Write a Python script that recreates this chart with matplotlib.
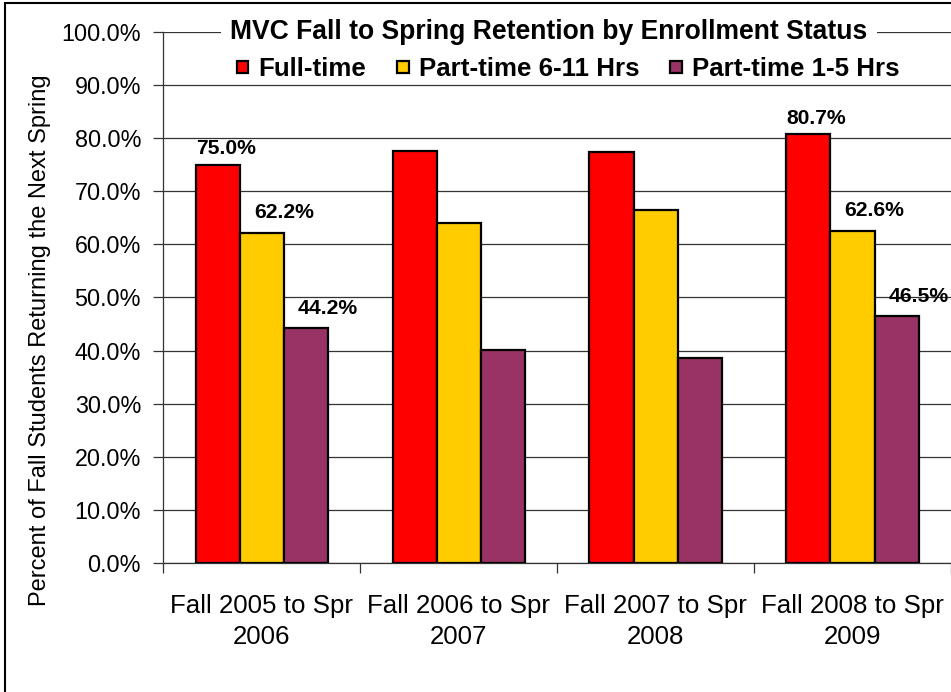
import matplotlib.pyplot as plt
import numpy as np
from matplotlib.patches import Rectangle

plt.rcParams['font.family'] = ['Liberation Sans', 'DejaVu Sans']

periods = ["Fall 2005 to Spr\n2006", "Fall 2006 to Spr\n2007",
           "Fall 2007 to Spr\n2008", "Fall 2008 to Spr\n2009"]
series_names = ["Full-time", "Part-time 6-11 Hrs", "Part-time 1-5 Hrs"]
full_time = [75.0, 77.5, 77.3, 80.7]
part_6_11 = [62.2, 64.0, 66.5, 62.6]
part_1_5 = [44.2, 40.1, 38.6, 46.5]
labeled_groups = [0, 3]  # only first and last period carry value labels

colors = ['#FF0000', '#FFCC00', '#993366']
series = [full_time, part_6_11, part_1_5]

fig = plt.figure(figsize=(9.51, 6.92), dpi=100)
ax = fig.add_axes([0.1717, 0.186, 0.8283, 0.7682])

x = np.arange(len(periods))
bar_width = 0.224
# label offsets in pixels (x, y) per series, as Excel placed them
label_offsets = [(8, 16), (22, 20), (22, 20)]

for i, (vals, name, col) in enumerate(zip(series, series_names, colors)):
    pos = x + (i - 1) * bar_width
    ax.bar(pos, vals, width=bar_width, color=col, edgecolor='black',
           linewidth=1.6, label=name, zorder=3)
    for g in labeled_groups:
        ax.annotate(f"{vals[g]:.1f}%", (pos[g], vals[g]),
                    xytext=label_offsets[i], textcoords='offset pixels',
                    ha='center', va='center', fontsize=15.2,
                    fontweight='bold', zorder=5)

ax.set_xlim(-0.5, len(periods) - 0.5)
ax.set_ylim(0, 100)
ax.set_yticks(np.arange(0, 101, 10))
ax.set_yticklabels([f"{v:.1f}%" for v in np.arange(0, 101, 10)], fontsize=16.8)
ax.yaxis.grid(True, color='#333333', linewidth=0.9, zorder=0)
ax.set_axisbelow(True)

ax.set_xticks(x)
ax.set_xticklabels(periods, fontsize=18.6, linespacing=1.36)
ax.set_xticks(np.arange(-0.5, len(periods)), minor=True)
ax.tick_params(axis='x', which='major', length=0, pad=22)
ax.tick_params(axis='x', which='minor', length=7, width=0.9, color='#333333')
ax.tick_params(axis='y', length=7, width=0.9, color='#333333', pad=9)

for s in ['top', 'right']:
    ax.spines[s].set_visible(False)
for s in ['left', 'bottom']:
    ax.spines[s].set_color('#333333')
    ax.spines[s].set_linewidth(0.9)

ax.set_ylabel("Percent of Fall Students Returning the Next Spring", fontsize=17)
ax.yaxis.set_label_coords(-0.143, 0.42)

fig.text(549 / 951, 1 - 32 / 692, "MVC Fall to Spring Retention by Enrollment Status",
         ha='center', va='center', fontsize=19.1, fontweight='bold',
         bbox=dict(facecolor='white', edgecolor='none', pad=7), zorder=10)

leg = fig.legend(loc='center', bbox_to_anchor=(568 / 951, 1 - 69 / 692), ncol=3,
                 frameon=False, prop={'weight': 'bold', 'size': 18.6},
                 handlelength=0.45, handleheight=0.36, handletextpad=0.39,
                 columnspacing=1.2, borderpad=0.2)

fig.patches.append(Rectangle((5 / 951, -0.05), 1.2, 1.05 - 3 / 692,
                             transform=fig.transFigure, fill=False,
                             edgecolor='black', linewidth=1.5))

plt.savefig("out.png", dpi=100)
